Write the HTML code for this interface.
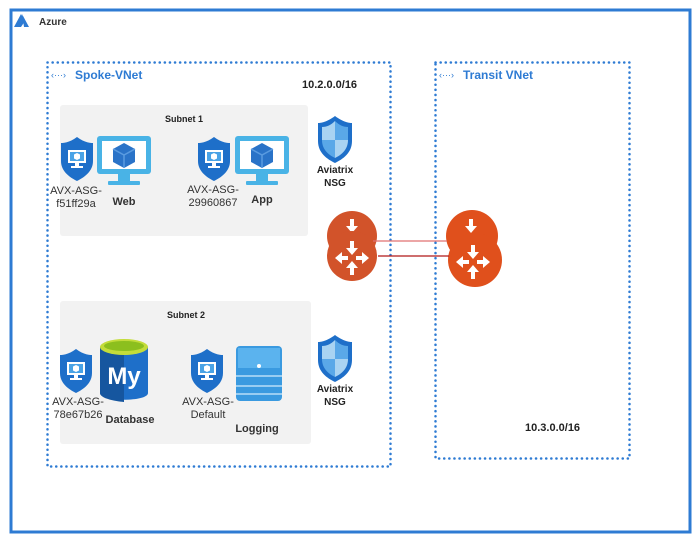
<!DOCTYPE html>
<html><head><meta charset="utf-8"><style>
body{margin:0;background:#fff;width:698px;height:556px;overflow:hidden}
svg{display:block}
text{font-family:"Liberation Sans",sans-serif}
</style></head><body>
<svg width="698" height="556" viewBox="0 0 698 556">
<defs>
<g id="asg">
 <path d="M0,-20 C8,-14 14,-14 16,-14 L16,4 C16,14 8,20 0,24 C-8,20 -16,14 -16,4 L-16,-14 C-14,-14 -8,-14 0,-20Z" fill="#1e6fc9"/>
 <rect x="-9" y="-7" width="18" height="13" fill="#fff"/>
 <rect x="-7" y="-5" width="14" height="9" fill="#4aa3e6"/>
 <path d="M0,-4 L3,-2.5 L3,1.5 L0,3 L-3,1.5 L-3,-2.5Z" fill="#fff"/>
 <rect x="-2" y="6" width="4" height="3" fill="#fff"/><rect x="-6" y="9" width="12" height="2" fill="#fff"/>
</g>
<g id="mon">
 <rect x="-27" y="-22" width="54" height="38" rx="3" fill="#49b3e6"/>
 <rect x="-22" y="-17" width="44" height="28" fill="#fff"/>
 <rect x="-6" y="16" width="12" height="8" fill="#49b3e6"/>
 <rect x="-16" y="23" width="32" height="4" rx="1" fill="#49b3e6"/>
 <path d="M0,-15 L11,-9 L11,4 L0,10 L-11,4 L-11,-9Z" fill="#2a73c8"/>
 <path d="M-11,-9 L0,-3 L11,-9 M0,-3 L0,10" stroke="#5a9be0" stroke-width="1.5" fill="none"/>
</g>
<g id="nsg">
 <path d="M0,-22 C8,-16 14,-15 17,-15 L17,3 C17,15 8,21 0,25 C-8,21 -17,15 -17,3 L-17,-15 C-14,-15 -8,-16 0,-22Z" fill="#1e6fc9"/>
 <path d="M0,-17 L0,2 L-13,2 L-13,-11 C-8,-11 -4,-13 0,-17Z" fill="#a9d3f2"/>
 <path d="M0,2 L13,2 C13,12 6,17 0,20Z" fill="#a9d3f2"/>
 <path d="M0,-17 C4,-13 8,-11 13,-11 L13,2 L0,2Z" fill="#5aa8e8"/>
 <path d="M0,2 L0,20 C-6,17 -13,12 -13,2Z" fill="#5aa8e8"/>
</g>
<g id="rt" fill="#fff">
 <rect x="-2" y="-17" width="4" height="8"/><polygon points="-6,-10 6,-10 0,-3"/>
 <rect x="-2" y="9" width="4" height="8"/><polygon points="-6,10 6,10 0,3"/>
 <rect x="-12" y="-2" width="8" height="4"/><polygon points="-10,-6 -10,6 -17,0"/>
 <rect x="4" y="-2" width="8" height="4"/><polygon points="10,-6 10,6 17,0"/>
</g>
<g id="rtop" fill="#fff">
 <rect x="-2" y="-17" width="4" height="8"/><polygon points="-6,-10 6,-10 0,-3"/>
</g>
</defs>
<rect x="11" y="10" width="679" height="522" fill="none" stroke="#2e7bd3" stroke-width="3"/>
<path d="M14,27 L21,14 L25,21 L21,27Z M22,14 L29,27 L24,27 Z" fill="#2e7bd3"/>
<text x="39" y="25" font-size="10" font-weight="bold" fill="#333">Azure</text>

<rect x="47.5" y="62.5" width="343" height="404" fill="none" stroke="#2e7bd3" stroke-width="2.5" stroke-dasharray="0.1 5" stroke-linecap="round"/>
<rect x="435.5" y="62.5" width="194" height="396" fill="none" stroke="#2e7bd3" stroke-width="2.5" stroke-dasharray="0.1 5" stroke-linecap="round"/>
<text x="51" y="78" font-size="9" fill="#2e7bd3">‹···›</text>
<text x="75" y="79" font-size="12" font-weight="bold" fill="#2e7bd3">Spoke-VNet</text>
<text x="439" y="78" font-size="9" fill="#2e7bd3">‹···›</text>
<text x="463" y="79" font-size="12" font-weight="bold" fill="#2e7bd3">Transit VNet</text>
<text x="302" y="88" font-size="11" font-weight="bold" fill="#222">10.2.0.0/16</text>
<text x="525" y="431" font-size="11" font-weight="bold" fill="#222">10.3.0.0/16</text>

<rect x="60" y="105" width="248" height="131" rx="3" fill="#f2f2f2"/>
<rect x="60" y="301" width="251" height="143" rx="3" fill="#f2f2f2"/>
<text x="184" y="122" font-size="9" font-weight="bold" text-anchor="middle" fill="#222">Subnet 1</text>
<text x="186" y="318" font-size="9" font-weight="bold" text-anchor="middle" fill="#222">Subnet 2</text>

<use href="#asg" x="77" y="157"/>
<use href="#mon" x="124" y="158"/>
<text x="76" y="194" font-size="11" text-anchor="middle" fill="#333">AVX-ASG-</text>
<text x="76" y="207" font-size="11" text-anchor="middle" fill="#333">f51ff29a</text>
<text x="124" y="205" font-size="11" font-weight="bold" text-anchor="middle" fill="#333">Web</text>
<use href="#asg" x="214" y="157"/>
<use href="#mon" x="262" y="158"/>
<text x="213" y="193" font-size="11" text-anchor="middle" fill="#333">AVX-ASG-</text>
<text x="213" y="206" font-size="11" text-anchor="middle" fill="#333">29960867</text>
<text x="262" y="203" font-size="11" font-weight="bold" text-anchor="middle" fill="#333">App</text>

<use href="#asg" x="76" y="369"/>
<g>
 <path d="M100,347 L100,393 C100,402 148,402 148,393 L148,347Z" fill="#1e6fc9"/>
 <path d="M100,347 L100,393 C100,400 124,402 124,402 L124,347Z" fill="#16569f"/>
 <ellipse cx="124" cy="347" rx="24" ry="8" fill="#c3dc3a"/>
 <ellipse cx="124" cy="346" rx="20" ry="5" fill="#8cbf1e"/>
 <text x="124" y="384" font-size="24" font-weight="bold" text-anchor="middle" fill="#fff">My</text>
</g>
<text x="78" y="405" font-size="11" text-anchor="middle" fill="#333">AVX-ASG-</text>
<text x="78" y="418" font-size="11" text-anchor="middle" fill="#333">78e67b26</text>
<text x="130" y="423" font-size="11" font-weight="bold" text-anchor="middle" fill="#333">Database</text>

<use href="#asg" x="207" y="369"/>
<g>
 <rect x="236" y="346" width="46" height="55" rx="4" fill="#3a9ae0"/>
 <rect x="238" y="348" width="42" height="20" fill="#5bb3ee"/>
 <line x1="236" y1="376" x2="282" y2="376" stroke="#b8def7" stroke-width="1.5"/>
 <line x1="236" y1="386" x2="282" y2="386" stroke="#b8def7" stroke-width="1.5"/>
 <line x1="236" y1="394" x2="282" y2="394" stroke="#b8def7" stroke-width="1.5"/>
 <circle cx="259" cy="366" r="2" fill="#fff"/>
</g>
<text x="208" y="405" font-size="11" text-anchor="middle" fill="#333">AVX-ASG-</text>
<text x="208" y="418" font-size="11" text-anchor="middle" fill="#333">Default</text>
<text x="257" y="432" font-size="11" font-weight="bold" text-anchor="middle" fill="#333">Logging</text>

<use href="#nsg" x="335" y="138"/>
<text x="335" y="173" font-size="10" font-weight="bold" text-anchor="middle" fill="#222">Aviatrix</text>
<text x="335" y="186" font-size="10" font-weight="bold" text-anchor="middle" fill="#222">NSG</text>
<use href="#nsg" x="335" y="357"/>
<text x="335" y="392" font-size="10" font-weight="bold" text-anchor="middle" fill="#222">Aviatrix</text>
<text x="335" y="405" font-size="10" font-weight="bold" text-anchor="middle" fill="#222">NSG</text>

<circle cx="352" cy="236" r="25" fill="#d2532a"/>
<use href="#rtop" x="352" y="236"/>
<circle cx="352" cy="256" r="25" fill="#d2532a"/>
<use href="#rt" x="352" y="258"/>
<circle cx="472" cy="236" r="26" fill="#e0501c"/>
<use href="#rtop" x="471" y="236"/>
<circle cx="475" cy="260" r="27" fill="#e0501c"/>
<use href="#rt" x="473" y="262"/>
<line x1="373" y1="241" x2="447" y2="241" stroke="#e07070" stroke-width="1.2"/>
<line x1="378" y1="256" x2="449" y2="256" stroke="#b01818" stroke-width="1.2"/>
</svg>
</body></html>
